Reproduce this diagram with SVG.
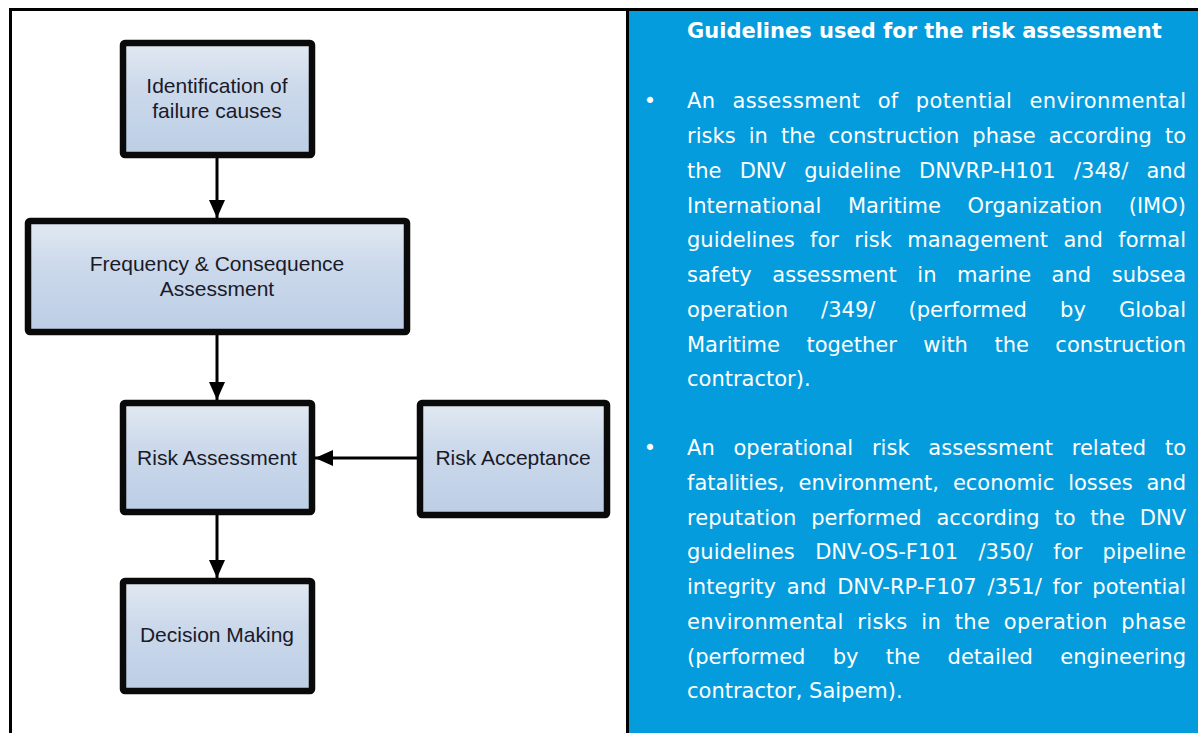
<svg xmlns="http://www.w3.org/2000/svg" width="1198" height="733" viewBox="0 0 1198 733">
<defs>
<linearGradient id="boxfill" x1="0" y1="0" x2="0" y2="1">
<stop offset="0" stop-color="#e2e9f2"/>
<stop offset="0.4" stop-color="#ccd9eb"/>
<stop offset="1" stop-color="#bccee5"/>
</linearGradient>
<marker id="arrow" markerUnits="userSpaceOnUse" markerWidth="18" markerHeight="18" viewBox="0 0 18 18" refX="18" refY="9" orient="auto">
<path d="M0,1 L18,9 L0,17 Z" fill="#000"/>
</marker>
</defs>
<style>
.box{fill:url(#boxfill);stroke:#0a0a0a;stroke-width:6.5;}
.lbl{font-family:"Liberation Sans",Arial,sans-serif;font-size:21px;fill:#1a1a28;text-anchor:middle;}
.conn{stroke:#000;stroke-width:3;fill:none;}
.body{font-family:"DejaVu Sans",Verdana,sans-serif;font-size:21px;fill:#ffffff;}
.title{font-family:"DejaVu Sans",Verdana,sans-serif;font-size:21px;font-weight:bold;fill:#ffffff;}
</style>
<rect x="0" y="0" width="1198" height="733" fill="#ffffff"/>
<rect x="628" y="10" width="570" height="723" fill="#049cdd"/>
<g id="frame" fill="#000">
<rect x="9" y="8" width="1189" height="3"/>
<rect x="9" y="8" width="3" height="725"/>
<rect x="626" y="8" width="3" height="725"/>
</g>
<g id="connectors">
<line class="conn" x1="217" y1="158" x2="217" y2="218" marker-end="url(#arrow)"/>
<line class="conn" x1="217" y1="335" x2="217" y2="400" marker-end="url(#arrow)"/>
<line class="conn" x1="217" y1="515" x2="217" y2="578" marker-end="url(#arrow)"/>
<line class="conn" x1="417" y1="458" x2="315" y2="458" marker-end="url(#arrow)"/>
</g>
<g id="node-identification">
<rect class="box" x="123" y="43" width="189" height="112" rx="2"/>
<text class="lbl" x="217" y="93">Identification of</text>
<text class="lbl" x="217" y="118">failure causes</text>
</g>
<g id="node-frequency">
<rect class="box" x="28" y="221" width="379" height="111" rx="2"/>
<text class="lbl" x="217" y="271">Frequency &amp; Consequence</text>
<text class="lbl" x="217" y="296">Assessment</text>
</g>
<g id="node-risk-assessment">
<rect class="box" x="123" y="403" width="189" height="109" rx="2"/>
<text class="lbl" x="217" y="465">Risk Assessment</text>
</g>
<g id="node-risk-acceptance">
<rect class="box" x="420" y="403" width="187" height="112" rx="2"/>
<text class="lbl" x="513" y="465">Risk Acceptance</text>
</g>
<g id="node-decision">
<rect class="box" x="123" y="581" width="189" height="110" rx="2"/>
<text class="lbl" x="217" y="642">Decision Making</text>
</g>
<g id="guidelines">
<text class="title" x="687" y="38">Guidelines used for the risk assessment</text>
<text class="body" x="650" y="108" text-anchor="middle">•</text>
<text class="body" x="687" y="108" word-spacing="10.2" textLength="499" lengthAdjust="spacing">An assessment of potential environmental</text>
<text class="body" x="687" y="143" word-spacing="6.4" textLength="499" lengthAdjust="spacing">risks in the construction phase according to</text>
<text class="body" x="687" y="178" word-spacing="11.5" textLength="499" lengthAdjust="spacing">the DNV guideline DNVRP-H101 /348/ and</text>
<text class="body" x="687" y="213" word-spacing="19.9" textLength="499" lengthAdjust="spacing">International Maritime Organization (IMO)</text>
<text class="body" x="687" y="247" word-spacing="8.7" textLength="499" lengthAdjust="spacing">guidelines for risk management and formal</text>
<text class="body" x="687" y="282" word-spacing="13.9" textLength="499" lengthAdjust="spacing">safety assessment in marine and subsea</text>
<text class="body" x="687" y="317" word-spacing="26.4" textLength="499" lengthAdjust="spacing">operation /349/ (performed by Global</text>
<text class="body" x="687" y="352" word-spacing="19.8" textLength="499" lengthAdjust="spacing">Maritime together with the construction</text>
<text class="body" x="687" y="386">contractor).</text>
<text class="body" x="650" y="455" text-anchor="middle">•</text>
<text class="body" x="687" y="455" word-spacing="12.1" textLength="499" lengthAdjust="spacing">An operational risk assessment related to</text>
<text class="body" x="687" y="490" word-spacing="7.2" textLength="499" lengthAdjust="spacing">fatalities, environment, economic losses and</text>
<text class="body" x="687" y="525" word-spacing="8.1" textLength="499" lengthAdjust="spacing">reputation performed according to the DNV</text>
<text class="body" x="687" y="559" word-spacing="13.7" textLength="499" lengthAdjust="spacing">guidelines DNV-OS-F101 /350/ for pipeline</text>
<text class="body" x="687" y="594" word-spacing="4.0" textLength="499" lengthAdjust="spacing">integrity and DNV-RP-F107 /351/ for potential</text>
<text class="body" x="687" y="629" word-spacing="6.7" textLength="499" lengthAdjust="spacing">environmental risks in the operation phase</text>
<text class="body" x="687" y="664" word-spacing="20.6" textLength="499" lengthAdjust="spacing">(performed by the detailed engineering</text>
<text class="body" x="687" y="698">contractor, Saipem).</text>
</g>
</svg>
